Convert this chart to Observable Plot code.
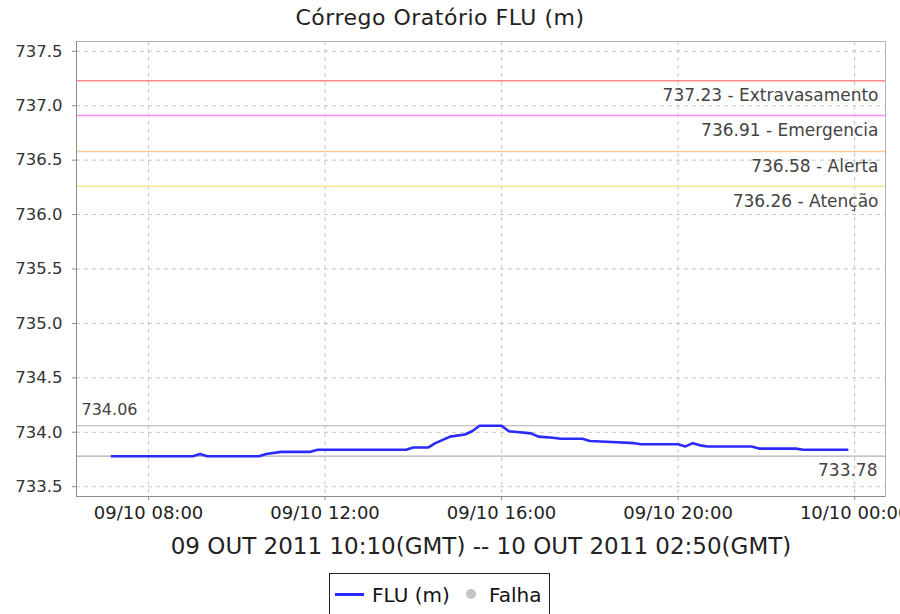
<!DOCTYPE html>
<html>
<head>
<meta charset="utf-8">
<script src="https://cdn.jsdelivr.net/npm/d3@7"></script>
<script src="https://cdn.jsdelivr.net/npm/@observablehq/plot@0.6"></script>
<style>
  html, body { margin: 0; padding: 0; background: #fff; }
  #wrap { position: relative; width: 900px; height: 614px; overflow: hidden; font-family: "DejaVu Sans", sans-serif; }
  #title { position: absolute; left: 0; top: 0; width: 880px; height: 36px; line-height: 36px; text-align: center; font-size: 22px; letter-spacing: 0.5px; color: #222; padding-top: 0px; }
  #chart { position: absolute; left: 0; top: 36px; }
  #legend { position: absolute; left: 329px; top: 573px; width: 221px; height: 44px; border: 1px solid #222; box-sizing: border-box; font-size: 20px; color: #111; }
  #legend .ln { position: absolute; left: 5px; top: 19px; width: 29px; height: 3px; background: #2a2aff; }
  #legend .tx { position: absolute; top: 11px; line-height: 20px; white-space: nowrap; }
  #legend .dot { position: absolute; left: 136px; top: 15px; width: 10px; height: 10px; border-radius: 50%; background: #c4c4c4; }
</style>
</head>
<body>
<div id="wrap">
  <div id="title">Córrego Oratório FLU (m)</div>
  <div id="chart"></div>
  <div id="legend">
    <span class="ln"></span>
    <span class="tx" style="left:42px">FLU (m)</span>
    <span class="dot"></span>
    <span class="tx" style="left:159px">Falha</span>
  </div>
</div>
<script>
// ---- data (local times, stored as UTC clock values) ----
const times = ["2011-10-09T07:10","2011-10-09T09:00","2011-10-09T09:10","2011-10-09T09:20","2011-10-09T10:30",
  "2011-10-09T10:40","2011-10-09T11:00","2011-10-09T11:40","2011-10-09T11:50","2011-10-09T13:50",
  "2011-10-09T14:00","2011-10-09T14:20","2011-10-09T14:30","2011-10-09T14:40","2011-10-09T14:50",
  "2011-10-09T15:10","2011-10-09T15:20","2011-10-09T15:30","2011-10-09T16:00","2011-10-09T16:10",
  "2011-10-09T16:40","2011-10-09T16:50","2011-10-09T17:10","2011-10-09T17:20","2011-10-09T17:50",
  "2011-10-09T18:00","2011-10-09T18:30","2011-10-09T19:00","2011-10-09T19:10","2011-10-09T20:00",
  "2011-10-09T20:10","2011-10-09T20:20","2011-10-09T20:30","2011-10-09T20:40","2011-10-09T21:40",
  "2011-10-09T21:50","2011-10-09T22:40","2011-10-09T22:50","2011-10-09T23:50"];
const levels = [733.78,733.78,733.80,733.78,733.78,
  733.80,733.82,733.82,733.84,733.84,
  733.86,733.86,733.90,733.93,733.96,
  733.98,734.01,734.06,734.06,734.01,
  733.99,733.96,733.95,733.94,733.94,
  733.92,733.91,733.90,733.89,733.89,
  733.87,733.90,733.88,733.87,733.87,
  733.85,733.85,733.84,733.84];

const thresholdNames = ["Extravasamento", "Emergencia", "Alerta", "Atenção"];
const thresholdValues = [737.23, 736.91, 736.58, 736.26];
const thresholdColors = ["#ff8a8a", "#ff8cff", "#ffc896", "#ffe68c"];

const maxLevel = 734.06;
const minLevel = 733.78;

const xTickLabels = ["2011-10-09T08:00","2011-10-09T12:00","2011-10-09T16:00","2011-10-09T20:00","2011-10-10T00:00"];
const yTickLabels = [733.5, 734.0, 734.5, 735.0, 735.5, 736.0, 736.5, 737.0, 737.5];
const subtitle = "09 OUT 2011 10:10(GMT) -- 10 OUT 2011 02:50(GMT)";
const xDomain = ["2011-10-09T06:22", "2011-10-10T00:42"];
const yDomain = [733.41, 737.59];

// ---- build ----
const toDate = s => new Date(s + ":00Z");
const series = times.map((t, i) => ({t: toDate(t), v: levels[i]}));
const thresholds = thresholdNames.map((n, i) => ({name: n, value: thresholdValues[i], color: thresholdColors[i]}));
const xTicks = xTickLabels.map(toDate);
const x0 = toDate(xDomain[0]), x1 = toDate(xDomain[1]);

const chart = Plot.plot({
  width: 900,
  height: 530,
  marginLeft: 76,
  marginRight: 15,
  marginTop: 5,
  marginBottom: 70,
  style: {fontFamily: "'DejaVu Sans', sans-serif", fontSize: "16px", color: "#333", background: "#fff"},
  x: {type: "utc", domain: [x0, x1]},
  y: {domain: yDomain},
  marks: [
    Plot.gridX(xTicks, {stroke: "#c4c4c4", strokeOpacity: 1, strokeDasharray: "4,4"}),
    Plot.gridY(yTickLabels, {stroke: "#c4c4c4", strokeOpacity: 1, strokeDasharray: "4,4"}),
    Plot.frame({stroke: "#b4b4b4"}),
    ...thresholds.map(d => Plot.ruleY([d.value], {stroke: d.color, strokeWidth: 1.6})),
    Plot.text(thresholds, {y: "value", text: d => `${d.value.toFixed(2)} - ${d.name}`, frameAnchor: "right",
      textAnchor: "end", dx: -7, dy: 15, fill: "#444", fontSize: 17}),
    Plot.ruleY([maxLevel, minLevel], {stroke: "#b0b0b0", strokeWidth: 1.2}),
    Plot.text([maxLevel], {y: d => d, text: d => d.toFixed(2), frameAnchor: "left", textAnchor: "start",
      dx: 5, dy: -16, fill: "#444", fontSize: 16}),
    Plot.text([minLevel], {y: d => d, text: d => d.toFixed(2), frameAnchor: "right", textAnchor: "end",
      dx: -8, dy: 14, fill: "#444", fontSize: 17}),
    Plot.line(series, {x: "t", y: "v", stroke: "#2a2aff", strokeWidth: 2.6}),
    Plot.ruleX([x0], {stroke: "#8c8c8c"}),
    Plot.ruleY([yDomain[0]], {stroke: "#8c8c8c"}),
    Plot.axisY(yTickLabels, {tickFormat: d3.format(".1f"), tickSize: 4, tickPadding: 10, stroke: "#8c8c8c", fill: "#333", fontSize: 16.5, label: null}),
    Plot.axisX(xTicks, {tickFormat: d3.utcFormat("%d/%m %H:%M"), tickSize: 4, tickPadding: 6, stroke: "#8c8c8c", fill: "#222", fontSize: 18, label: null}),
    Plot.text([subtitle], {text: d => d, frameAnchor: "bottom", lineAnchor: "top", dy: 41, fontSize: 23, fill: "#222"})
  ]
});
document.getElementById("chart").appendChild(chart);
</script>
</body>
</html>
